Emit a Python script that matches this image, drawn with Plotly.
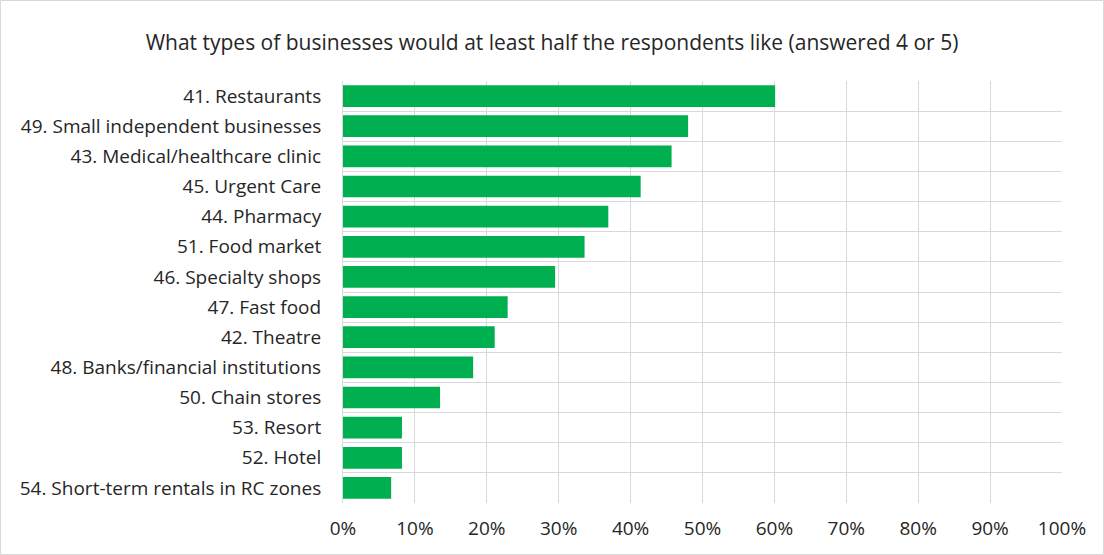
import plotly.graph_objects as go

categories = [
    "41. Restaurants",
    "49. Small independent businesses",
    "43. Medical/healthcare clinic",
    "45. Urgent Care",
    "44. Pharmacy",
    "51. Food market",
    "46. Specialty shops",
    "47. Fast food",
    "42. Theatre",
    "48. Banks/financial institutions",
    "50. Chain stores",
    "53. Resort",
    "52. Hotel",
    "54. Short-term rentals in RC zones",
]
values = [0.601, 0.480, 0.457, 0.414, 0.369, 0.336, 0.295, 0.229, 0.211, 0.181, 0.135, 0.082, 0.082, 0.067]
x_ticks = [0, 0.1, 0.2, 0.3, 0.4, 0.5, 0.6, 0.7, 0.8, 0.9, 1.0]
title_text = "What types of businesses would at least half the respondents like (answered 4 or 5)"

FONT = "'Open Sans', sans-serif"
GRID = "#d9d9d9"

fig = go.Figure(go.Bar(
    x=values, y=categories, orientation="h",
    marker=dict(color="#00B050", line=dict(width=0)),
    hoverinfo="x+y",
))

fig.update_layout(
    width=1104, height=555,
    margin=dict(l=343, r=42, t=81, b=52, autoexpand=False),
    paper_bgcolor="white", plot_bgcolor="white",
    bargap=0.28,
    showlegend=False,
    font=dict(family=FONT, size=19, color="#262626"),
    title=dict(text=title_text, x=0.5, xanchor="center", xref="container",
               y=1 - 43 / 555, yanchor="middle", yref="container",
               font=dict(family=FONT, size=21, color="#262626")),
    xaxis=dict(range=[0, 1], tickvals=x_ticks, tickformat=".0%",
               showgrid=True, gridcolor=GRID, gridwidth=1,
               zeroline=False, showline=False, ticks="",
               ticklabelstandoff=12, fixedrange=True, automargin=False,
               tickfont=dict(size=19)),
    yaxis=dict(type="category", autorange="reversed",
               tickson="boundaries", showgrid=True, gridcolor=GRID, gridwidth=1,
               showline=True, linecolor=GRID, linewidth=1,
               ticks="", ticklabelstandoff=17, zeroline=False, fixedrange=True,
               automargin=False),
)

# outer chart border
fig.add_shape(type="rect", xref="paper", yref="paper",
              x0=-342.5 / 719, x1=(1103.5 - 343) / 719,
              y0=-51.5 / 422, y1=502.5 / 422,
              line=dict(color="#d9d9d9", width=1), layer="below")

fig.write_html("out.html", config={"displayModeBar": False},
               post_script="document.body.style.margin='0';document.body.style.padding='0';")
